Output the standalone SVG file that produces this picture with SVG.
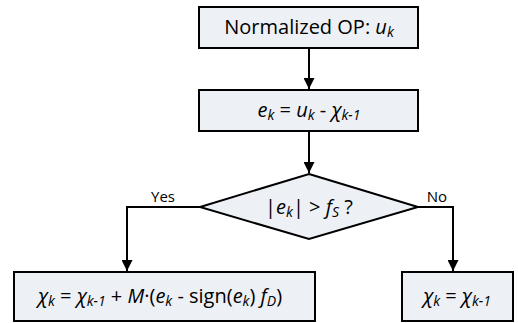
<svg xmlns="http://www.w3.org/2000/svg" width="518" height="323" viewBox="0 0 518 323">
<defs>
<style>
.box{fill:#edf0f5;stroke:#000;stroke-width:2}
.t{font-family:"Open Sans","Noto Sans",sans-serif;font-size:20px;fill:#000}
.i{font-style:italic}
.s{font-size:14px;font-style:italic}
.lbl{font-family:"Open Sans","Noto Sans",sans-serif;font-size:15px;fill:#000}
.c{fill:none;stroke:#000;stroke-width:2}
</style>
<marker id="ah" markerWidth="11" markerHeight="11" refX="11" refY="5.5" orient="auto" markerUnits="userSpaceOnUse">
<path d="M0,0 L11,5.5 L0,11 Z" fill="#000"/>
</marker>
</defs>
<g id="connectors">
<path class="c" d="M309,48 L309,89" marker-end="url(#ah)"/>
<path class="c" d="M309,131 L309,173" marker-end="url(#ah)"/>
<path class="c" d="M200,207 L127,207 L127,271" marker-end="url(#ah)"/>
<path class="c" d="M418,207 L453,207 L453,271" marker-end="url(#ah)"/>
<text class="lbl" x="163" y="202" text-anchor="middle">Yes</text>
<text class="lbl" x="437" y="202" text-anchor="middle">No</text>
</g>
<g id="n1">
<rect class="box" x="199" y="7" width="219" height="41"/>
<text class="t" x="309" y="34" text-anchor="middle">Normalized OP: <tspan class="i">u</tspan><tspan class="s" dy="3">k</tspan></text>
</g>
<g id="n2">
<rect class="box" x="199" y="90" width="219" height="41"/>
<text class="t" x="309" y="117" text-anchor="middle"><tspan class="i">e</tspan><tspan class="s" dy="3">k</tspan><tspan dy="-3"> = </tspan><tspan class="i">u</tspan><tspan class="s" dy="3">k</tspan><tspan dy="-3"> - </tspan><tspan class="i">χ</tspan><tspan class="s" dy="3">k-1</tspan></text>
</g>
<g id="n3">
<polygon class="box" points="309,174 418,207 309,239 200,207"/>
<text class="t" x="309" y="214" text-anchor="middle">|<tspan class="i">e</tspan><tspan class="s" dy="3">k</tspan><tspan dy="-3">| &gt; </tspan><tspan class="i">f</tspan><tspan class="s" dy="3">S</tspan><tspan dy="-3"> ?</tspan></text>
</g>
<g id="n4">
<rect class="box" x="14" y="272" width="301" height="49"/>
<text class="t" x="160" y="303" text-anchor="middle"><tspan class="i">χ</tspan><tspan class="s" dy="3">k</tspan><tspan dy="-3"> = </tspan><tspan class="i">χ</tspan><tspan class="s" dy="3">k-1</tspan><tspan dy="-3"> + </tspan><tspan class="i">M</tspan><tspan>·(</tspan><tspan class="i">e</tspan><tspan class="s" dy="3">k</tspan><tspan dy="-3"> - sign(</tspan><tspan class="i">e</tspan><tspan class="s" dy="3">k</tspan><tspan dy="-3">) </tspan><tspan class="i">f</tspan><tspan class="s" dy="3">D</tspan><tspan dy="-3">)</tspan></text>
</g>
<g id="n5">
<rect class="box" x="402" y="272" width="111" height="49"/>
<text class="t" x="457" y="303" text-anchor="middle"><tspan class="i">χ</tspan><tspan class="s" dy="3">k</tspan><tspan dy="-3"> = </tspan><tspan class="i">χ</tspan><tspan class="s" dy="3">k-1</tspan></text>
</g>
</svg>
